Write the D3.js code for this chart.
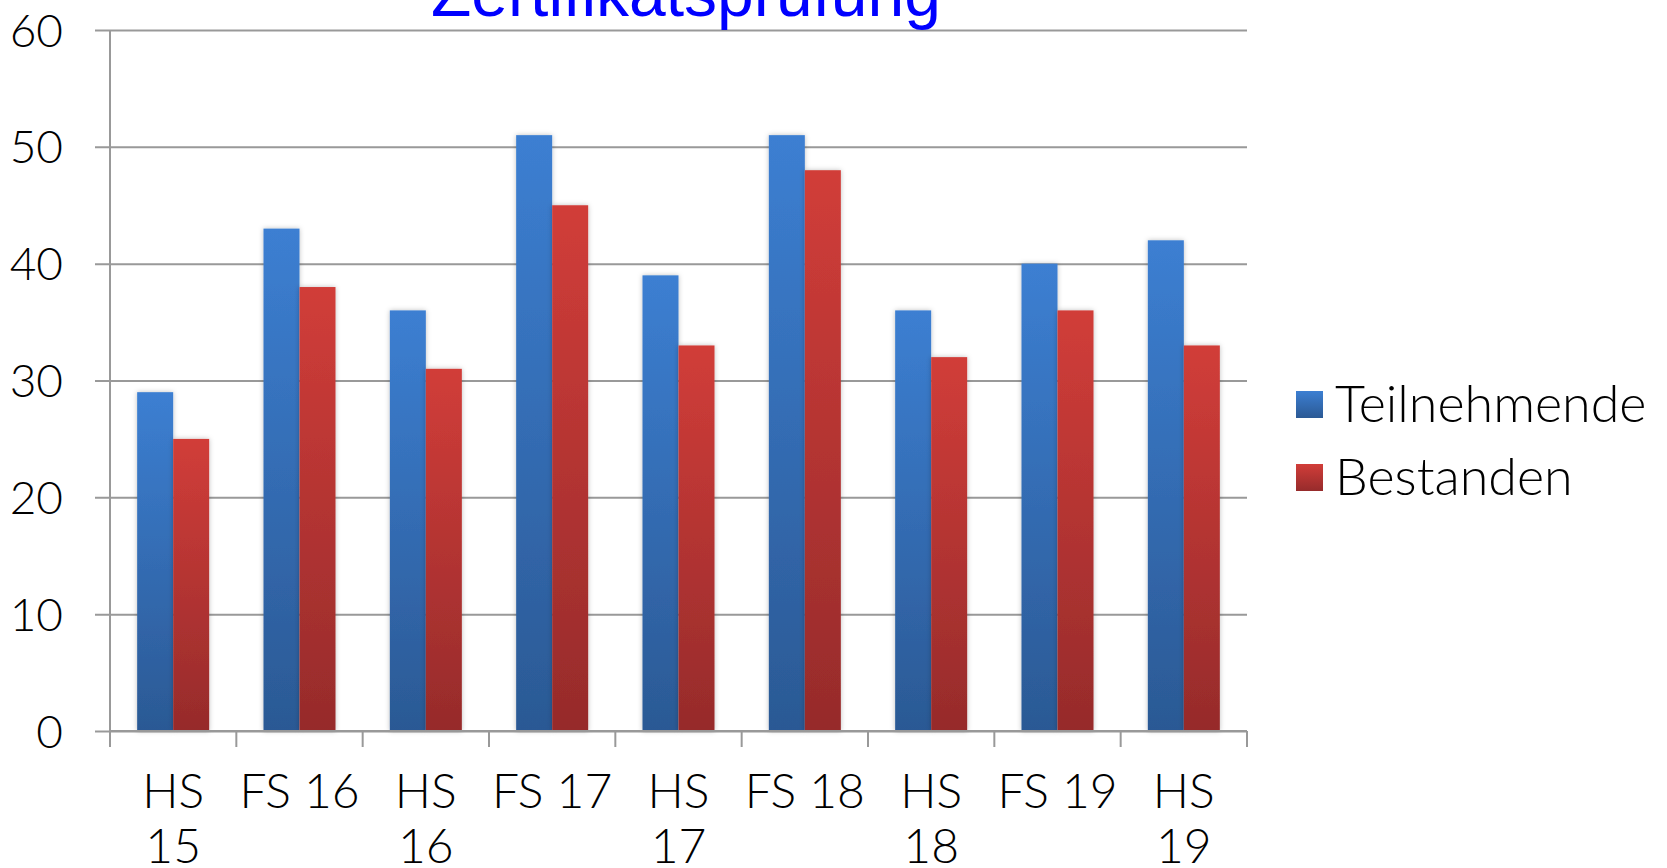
<!DOCTYPE html>
<html>
<head>
<meta charset="utf-8">
<script src="https://cdn.jsdelivr.net/npm/d3@7"></script>
<style>
  body { margin: 0; background: #fff; }
  svg text { font-family: Lato, "Noto Sans", sans-serif; font-weight: 300; fill: #000; }
</style>
</head>
<body>
<div id="chart"></div>
<script>
const categories = ["HS 15", "FS 16", "HS 16", "FS 17", "HS 17", "FS 18", "HS 18", "FS 19", "HS 19"];
const tickLabels = [["HS", "15"], ["FS 16"], ["HS", "16"], ["FS 17"], ["HS", "17"], ["FS 18"], ["HS", "18"], ["FS 19"], ["HS", "19"]];
const seriesNames = ["Teilnehmende", "Bestanden"];
const teilnehmende = [29, 43, 36, 51, 39, 51, 36, 40, 42];
const bestanden = [25, 38, 31, 45, 33, 48, 32, 36, 33];
const yTicks = [0, 10, 20, 30, 40, 50, 60];
const title = "Zertifikatsprüfung";

const width = 1667;
const height = 868;
const plot = { left: 110, right: 1247, top: 30, bottom: 731 };

const svg = d3.select("#chart")
    .append("svg")
    .attr("width", width)
    .attr("height", height);

// gradients + shadow
const defs = svg.append("defs");
const colors = [
    { top: "#3c7fd2", bottom: "#2b5994" },
    { top: "#d13d39", bottom: "#962b2b" }
];
colors.forEach((c, i) => {
    const g = defs.append("linearGradient")
        .attr("id", "grad" + i)
        .attr("x1", 0).attr("y1", 0).attr("x2", 0).attr("y2", 1);
    g.append("stop").attr("offset", "0%").attr("stop-color", c.top);
    g.append("stop").attr("offset", "100%").attr("stop-color", c.bottom);
});
defs.append("filter")
    .attr("id", "shadow")
    .attr("x", "-30%").attr("y", "-10%").attr("width", "160%").attr("height", "120%")
    .append("feDropShadow")
    .attr("dx", 0).attr("dy", 0).attr("stdDeviation", 2.5)
    .attr("flood-color", "#000").attr("flood-opacity", 0.25);

const x0 = d3.scaleBand()
    .domain(categories)
    .range([plot.left, plot.right])
    .paddingInner(0.43)
    .paddingOuter(0.215);

const x1 = d3.scaleBand()
    .domain(seriesNames)
    .range([0, x0.bandwidth()]);

const y = d3.scaleLinear()
    .domain([0, 60])
    .range([plot.bottom, plot.top]);

// gridlines + y axis
const yAxis = d3.axisLeft(y)
    .tickValues(yTicks)
    .tickSize(-(plot.right - plot.left))
    .tickPadding(47)
    .tickFormat(d3.format("d"));

const gy = svg.append("g")
    .attr("transform", `translate(${plot.left},0)`)
    .call(yAxis);
gy.select(".domain").remove();
gy.selectAll(".tick line")
    .attr("x1", -15)
    .attr("stroke", "#999")
    .attr("stroke-width", 2);
gy.selectAll(".tick text")
    .attr("font-size", 46)
    .attr("dy", "0.35em")
    .style("font-family", "Lato, sans-serif");

// bars
const rows = categories.map((c, i) => ({ cat: c, values: [teilnehmende[i], bestanden[i]] }));

const groups = svg.append("g")
    .selectAll("g")
    .data(rows)
    .join("g")
    .attr("transform", d => `translate(${x0(d.cat)},0)`);

groups.selectAll("rect")
    .data(d => d.values.map((v, j) => ({ key: seriesNames[j], value: v, j })))
    .join("rect")
    .attr("x", d => x1(d.key))
    .attr("y", d => y(d.value))
    .attr("width", x1.bandwidth())
    .attr("height", d => y(0) - y(d.value))
    .attr("fill", d => `url(#grad${d.j})`)
    .attr("filter", "url(#shadow)");

// x axis: band boundaries as ticks
const step = x0.step();
const boundaries = d3.range(categories.length + 1).map(i => plot.left + i * step);

const axisG = svg.append("g");
axisG.append("line")
    .attr("x1", plot.left).attr("x2", plot.right)
    .attr("y1", y(0)).attr("y2", y(0))
    .attr("stroke", "#999").attr("stroke-width", 2);
axisG.append("line")
    .attr("x1", plot.left).attr("x2", plot.left)
    .attr("y1", plot.top).attr("y2", y(0) + 16)
    .attr("stroke", "#999").attr("stroke-width", 2);
axisG.selectAll(".xtick")
    .data(boundaries)
    .join("line")
    .attr("class", "xtick")
    .attr("x1", d => d).attr("x2", d => d)
    .attr("y1", y(0)).attr("y2", y(0) + 16)
    .attr("stroke", "#999").attr("stroke-width", 2);

// x labels
const xl = svg.append("g")
    .selectAll("text")
    .data(categories)
    .join("text")
    .attr("x", d => x0(d) + x0.bandwidth() / 2)
    .attr("y", 808)
    .attr("text-anchor", "middle")
    .attr("font-size", 48);
xl.each(function(d, i) {
    const t = d3.select(this);
    tickLabels[i].forEach((line, k) => {
        t.append("tspan")
            .attr("x", x0(d) + x0.bandwidth() / 2)
            .attr("dy", k === 0 ? 0 : 55)
            .text(line);
    });
});

// title
svg.append("text")
    .attr("x", 686)
    .attr("y", 16)
    .attr("text-anchor", "middle")
    .attr("font-size", 66)
    .style("font-family", "'Liberation Sans', Arial, sans-serif")
    .style("font-weight", 400)
    .style("fill", "#0000ff")
    .text(title);

// legend
const legend = svg.append("g")
    .selectAll("g")
    .data(seriesNames)
    .join("g")
    .attr("transform", (d, i) => `translate(1296,${391 + i * 73})`);
legend.append("rect")
    .attr("width", 27)
    .attr("height", 27)
    .attr("fill", (d, i) => `url(#grad${i})`);
legend.append("text")
    .attr("x", 39)
    .attr("y", 31)
    .attr("font-size", 52)
    .text(d => d);
</script>
</body>
</html>
